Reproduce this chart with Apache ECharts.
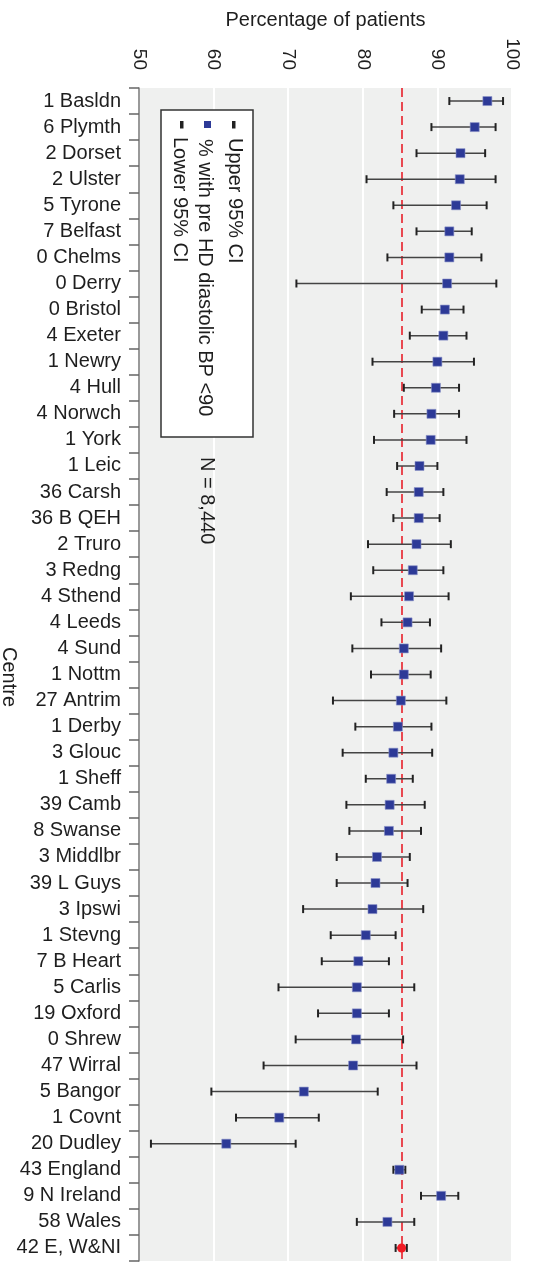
<!DOCTYPE html>
<html><head><meta charset="utf-8">
<script src="https://cdn.jsdelivr.net/npm/echarts@6/dist/echarts.min.js"></script>
<style>html,body{margin:0;padding:0;background:#fff}#c{width:533px;height:1262px}</style>
</head><body><div id="c"></div>
<script>
const centres = ["1 Basldn","6 Plymth","2 Dorset","2 Ulster","5 Tyrone","7 Belfast","0 Chelms","0 Derry","0 Bristol","4 Exeter","1 Newry","4 Hull","4 Norwch","1 York","1 Leic","36 Carsh","36 B QEH","2 Truro","3 Redng","4 Sthend","4 Leeds","4 Sund","1 Nottm","27 Antrim","1 Derby","3 Glouc","1 Sheff","39 Camb","8 Swanse","3 Middlbr","39 L Guys","3 Ipswi","1 Stevng","7 B Heart","5 Carlis","19 Oxford","0 Shrew","47 Wirral","5 Bangor","1 Covnt","20 Dudley","43 England","9 N Ireland","58 Wales","42 E, W&NI"];
const means  = [96.7,95.0,93.1,93.0,92.5,91.6,91.6,91.3,91.0,90.8,90.0,89.8,89.2,89.1,87.6,87.5,87.5,87.2,86.7,86.2,86.0,85.5,85.5,85.1,84.7,84.1,83.8,83.6,83.5,81.9,81.7,81.3,80.4,79.4,79.2,79.2,79.1,78.7,72.1,68.8,61.7,84.9,90.5,83.3,85.2];
const lowers = [91.6,89.2,87.2,80.5,84.1,87.2,83.3,71.1,87.9,86.3,81.3,85.5,84.2,81.5,84.6,83.2,84.1,80.7,81.4,78.4,82.5,78.6,81.1,76.0,79.0,77.3,80.4,77.8,78.2,76.5,76.5,72.0,75.7,74.5,68.7,74.0,71.0,66.7,59.7,63.0,51.6,84.1,87.8,79.2,84.4];
const uppers = [98.8,97.8,96.4,97.8,96.6,94.6,95.9,97.9,93.5,93.9,94.9,92.9,92.9,93.9,90.0,90.8,90.3,91.8,90.8,91.5,89.0,90.5,89.1,91.2,89.2,89.3,86.7,88.3,87.8,86.3,86.0,88.1,84.4,83.5,86.9,83.5,85.4,87.2,82.0,74.1,71.0,85.7,92.8,86.9,85.9];
const overallLabel = "42 E, W&NI";
const referenceValue = 85.2;
const xMin = 50, xMax = 100, xStep = 10;
const legendLabels = ["Upper 95% CI", "% with pre HD diastolic BP <90", "Lower 95% CI"];
const noteText = "N = 8,440";
const xTitle = "Percentage of patients";
const yTitle = "Centre";

const FONT = "'Liberation Sans', Arial, Helvetica, sans-serif";
const TXT = '#1e1e1e';
const chart = echarts.init(document.getElementById('c'), null, {renderer:'canvas'});

const rot = -Math.PI/2;
const option = {
  backgroundColor:'#fff',
  animation:false,
  textStyle:{fontFamily:FONT},
  grid:{left:139, right:21, top:88, height:1173, show:true, backgroundColor:'#eff0ef', borderWidth:0, containLabel:false, outerBoundsMode:'none'},
  xAxis:{
    type:'value', position:'top', min:xMin, max:xMax, interval:xStep,
    name:xTitle, nameLocation:'middle', nameGap:58,
    nameTextStyle:{fontSize:20, color:TXT, fontFamily:FONT},
    axisLine:{show:false}, axisTick:{show:false},
    axisLabel:{rotate:90, fontSize:19, color:TXT, margin:18, fontFamily:FONT},
    splitLine:{show:true, lineStyle:{color:'#ffffff', width:2}}
  },
  yAxis:{
    type:'category', inverse:true, data:centres,
    axisLine:{show:true, lineStyle:{color:'#777', width:1.5}},
    axisTick:{show:true, length:10, lineStyle:{color:'#666', width:1.5}},
    axisLabel:{interval:0, fontSize:20, color:TXT, margin:18, fontFamily:FONT},
    splitLine:{show:false}
  },
  series:[
    {
      type:'custom', z:2,
      data: centres.map((c,i)=>[lowers[i], uppers[i], i]),
      encode:{x:[0,1], y:2},
      renderItem(params, api){
        const y = api.value(2);
        const p1 = api.coord([api.value(0), y]);
        const p2 = api.coord([api.value(1), y]);
        const h = 8;
        return {type:'group', children:[
          {type:'line', shape:{x1:p1[0],y1:p1[1],x2:p2[0],y2:p2[1]}, style:{stroke:'#444', lineWidth:1.5}},
          {type:'line', shape:{x1:p1[0],y1:p1[1]-h/2,x2:p1[0],y2:p1[1]+h/2}, style:{stroke:'#222', lineWidth:2}},
          {type:'line', shape:{x1:p2[0],y1:p2[1]-h/2,x2:p2[0],y2:p2[1]+h/2}, style:{stroke:'#222', lineWidth:2}}
        ]};
      }
    },
    {
      type:'scatter', z:3,
      symbol:'rect', symbolSize:9,
      itemStyle:{color:'#2d3a97', opacity:1, borderColor:'#8a92c8', borderWidth:0.6},
      data: centres.map((c,i)=> c===overallLabel
        ? {value:[means[i], i], symbol:'circle', symbolSize:9, itemStyle:{color:'#f01b24', borderColor:'#f01b24', borderWidth:0, opacity:1}}
        : [means[i], i]),
      markLine:{
        silent:true, symbol:'none', label:{show:false}, z:1,
        lineStyle:{color:'#e8202a', type:[9,5], width:1.6, opacity:1},
        data:[{xAxis:referenceValue}]
      }
    }
  ],
  graphic:[
    {type:'text', x:9, y:677, rotation:rot, z:11, style:{text:yTitle, fontSize:20, fontFamily:FONT, fill:TXT, align:'center', verticalAlign:'middle'}},
    {type:'rect', shape:{x:161, y:110, width:92, height:327}, style:{fill:'#fff', stroke:'#333', lineWidth:1.5}, z:10},
    {type:'rect', shape:{x:232, y:121, width:3.5, height:7.5}, style:{fill:'#222'}, z:11},
    {type:'rect', shape:{x:204, y:121, width:7, height:7}, style:{fill:'#2d3a97'}, z:11},
    {type:'rect', shape:{x:180, y:121, width:3.5, height:7.5}, style:{fill:'#222'}, z:11},
    {type:'text', x:235, y:138, rotation:rot, z:11, style:{text:legendLabels[0], fontSize:20, fontFamily:FONT, fill:TXT, align:'left', verticalAlign:'middle'}},
    {type:'text', x:205, y:139, rotation:rot, z:11, style:{text:legendLabels[1], fontSize:20, fontFamily:FONT, fill:TXT, align:'left', verticalAlign:'middle'}},
    {type:'text', x:180, y:137, rotation:rot, z:11, style:{text:legendLabels[2], fontSize:20, fontFamily:FONT, fill:TXT, align:'left', verticalAlign:'middle'}},
    {type:'text', x:207, y:457, rotation:rot, z:11, style:{text:noteText, fontSize:20, fontFamily:FONT, fill:TXT, align:'left', verticalAlign:'middle'}}
  ]
};
chart.setOption(option);
</script>
</body></html>
